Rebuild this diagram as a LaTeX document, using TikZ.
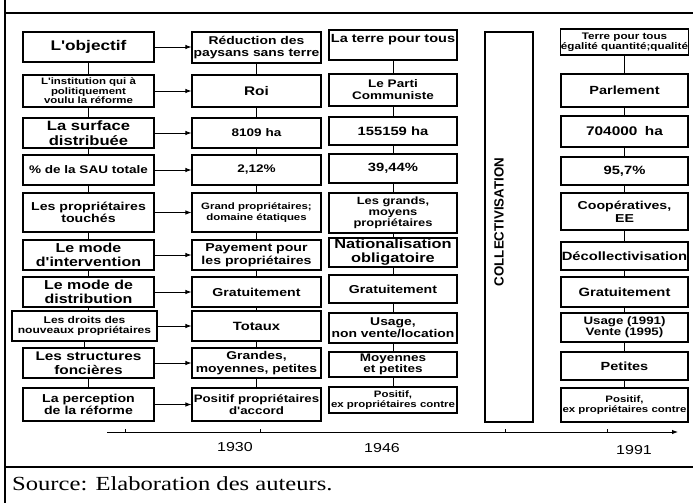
\documentclass[tikz,border=0pt]{standalone}
\usepackage{fontspec}
\usetikzlibrary{arrows.meta}
\newfontfamily\bxf{Liberation Sans}[FakeStretch=1.23]
\newfontfamily\plainsans{Liberation Sans}
\newfontfamily\srcf{Liberation Serif}[FakeStretch=1.23]
\tikzset{
  box/.style={draw, line width=1.1pt, inner sep=0pt, align=center},
  conn/.style={line width=0.9pt},
  arr/.style={line width=0.9pt, -{Latex[length=6pt,width=4.5pt]}},
  frameline/.style={line width=1.1pt},
  yearlbl/.style={font=\bxf\fontsize{13}{15}\selectfont, inner sep=0pt},
}
% name, x1, y1, x2, y2, size, text ; optional leading factor
\newcommand\bbox[8][1.1]{%
  \node[box, minimum width={(#5-#3)*1pt}, minimum height={(#6-#4)*1pt},
        font={\bxf\bfseries\fontsize{#7}{\fpeval{#7*#1}}\selectfont}]
        (#2) at ({(#3+#5)/2},{(#4+#6)/2}) {#8};}
\begin{document}
\begin{tikzpicture}[x=1pt,y=-1pt]
\useasboundingbox (0,0) rectangle (693,503);
% frame lines
\draw[frameline] (5,0) -- (5,503);
\draw[frameline] (5,13) -- (693,13);
\draw[frameline] (5,467) -- (693,467);
% column 1
\bbox{a1}{23}{32}{154}{62}{14}{L'objectif}
\bbox[1.02]{a2}{23}{75}{154}{107}{9.3}{L'institution qui à\\politiquement\\voulu la réforme}
\bbox{a3}{23}{118}{154}{148}{13.5}{La surface\\distribuée}
\bbox{a4}{23}{155}{154}{185}{11}{\% de la SAU totale}
\bbox{a5}{23}{193}{154}{232}{11.5}{Les propriétaires\\touchés}
\bbox[1.08]{a6}{23}{240}{154}{270}{13}{Le mode\\d'intervention}
\bbox[1.08]{a7}{23}{277}{154}{307}{13}{Le mode de\\distribution}
\bbox{a8}{12}{311}{157}{341}{9.8}{Les droits des\\nouveaux propriétaires}
\bbox{a9}{23}{348}{154}{378}{12.5}{Les structures\\foncières}
\bbox{a10}{23}{388}{154}{421}{11.5}{La perception\\de la réforme}
% column 2
\bbox{b1}{192}{32}{321}{63}{11.3}{Réduction des\\paysans sans terre}
\bbox{b2}{192}{75}{321}{107}{12.5}{Roi}
\bbox{b3}{192}{118}{321}{148}{11}{8109 ha}
\bbox{b4}{192}{155}{321}{185}{11}{2,12\%}
\bbox{b5}{192}{193}{321}{232}{9.3}{Grand propriétaires;\\domaine étatiques}
\bbox{b6}{192}{240}{321}{270}{11.5}{Payement pour\\les propriétaires}
\bbox{b7}{192}{277}{321}{307}{11.5}{Gratuitement}
\bbox{b8}{192}{311}{321}{341}{12}{Totaux}
\bbox{b9}{192}{348}{321}{378}{11.3}{Grandes,\\moyennes, petites}
\bbox{b10}{192}{388}{321}{421}{10.8}{Positif propriétaires\\d'accord}
% column 3
\bbox{c1}{329}{30}{457}{60}{11.8}{La terre pour tous\\\mbox{}}
\bbox{c2}{329}{74}{457}{106}{11}{Le Parti\\Communiste}
\bbox{c3}{329}{117}{457}{145}{12}{155159 ha}
\bbox{c4}{329}{154}{457}{183}{12}{39,44\%}
\bbox[1.05]{c5}{329}{193}{457}{233}{10.5}{Les grands,\\moyens\\propriétaires}
\bbox[1.05]{c6}{329}{238}{457}{267}{13.3}{Nationalisation\\obligatoire}
\bbox{c7}{329}{275}{457}{303}{11.5}{Gratuitement}
\bbox{c8}{329}{313}{457}{343}{11.3}{Usage,\\non vente/location}
\bbox[1.05]{c9}{329}{352}{457}{377}{11}{Moyennes\\et petites}
\bbox{c10}{329}{387}{457}{413}{9.3}{Positif,\\ex propriétaires contre}
% collectivisation
\node[draw, line width=1.1pt, minimum width=48pt, minimum height=390pt, inner sep=0pt] (coll) at (509,227) {};
\node[rotate=90, inner sep=0pt, font={\plainsans\bfseries\fontsize{13.3}{15}\selectfont}] (colltxt) at (499,222) {COLLECTIVISATION};
% column 4
\bbox[1.05]{d1}{561}{29}{688}{55}{9.5}{Terre pour tous\\égalité quantité;qualité}
\bbox{d2}{561}{74}{688}{107}{11.8}{Parlement}
\bbox{d3}{561}{116}{688}{147}{12.5}{704000\hspace{0.6em}ha}
\bbox{d4}{561}{157}{688}{185}{12}{95,7\%}
\bbox{d5}{561}{193}{688}{230}{11.5}{Coopératives,\\EE}
\bbox{d6}{561}{242}{688}{270}{12}{Décollectivisation}
\bbox{d7}{561}{277}{688}{307}{12}{Gratuitement}
\bbox[1.05]{d8}{561}{313}{688}{342}{10.8}{Usage (1991)\\Vente (1995)}
\bbox{d9}{561}{352}{688}{380}{11.8}{Petites}
\bbox{d10}{561}{388}{688}{422}{9.3}{Positif,\\ex propriétaires contre}
% connectors
\foreach \c in {a,b,c,d}{
  \foreach \i [evaluate=\i as \j using int(\i+1)] in {1,...,9}{
    \draw[conn] (\c\i.south) -- (\c\i.south |- \c\j.north);
  }
}
\foreach \i in {1,...,10}{
  \draw[arr] (a\i.east) -- (a\i.east -| b\i.west);
}
% time axis
\coordinate (ax0) at (107,432);
\coordinate (ax1) at (678,432);
\draw[arr] (ax0) -- (ax1);
\foreach \x in {125,260,505,607}{
  \draw[line width=0.8pt] (\x,432) -- (\x,429);
}
\node[yearlbl] (y1930) at (235,447) {1930};
\node[yearlbl] (y1946) at (382,448) {1946};
\node[yearlbl] (y1991) at (634,450) {1991};
% source
\node[anchor=base west, inner sep=0pt, font={\srcf\fontsize{20}{24}\selectfont}] (src) at (12,490) {Source: Elaboration des auteurs.};
\end{tikzpicture}
\end{document}
